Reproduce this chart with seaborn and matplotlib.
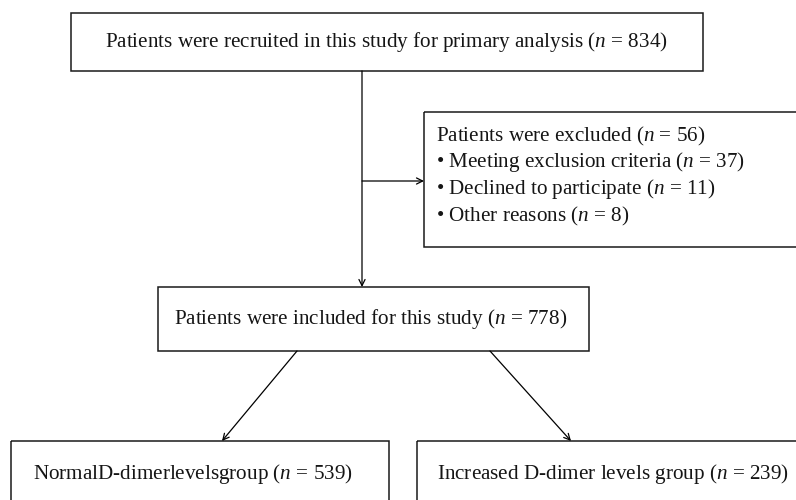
import matplotlib
matplotlib.use("Agg")
import matplotlib.pyplot as plt
import seaborn as sns
from matplotlib.patches import Rectangle

# flowchart content
recruited_label = "Patients were recruited in this study for primary analysis"
recruited_n = 834
excluded_label = "Patients were excluded"
excluded_n = 56
exclusion_reasons = ["Meeting exclusion criteria", "Declined to participate", "Other reasons"]
exclusion_counts = [37, 11, 8]
included_label = "Patients were included for this study"
included_n = 778
group_labels = ["NormalD-dimerlevelsgroup", "Increased D-dimer levels group"]
group_counts = [539, 239]

sns.set_theme(style="white")
plt.rcParams["font.family"] = ["Liberation Serif", "DejaVu Serif"]
plt.rcParams["mathtext.fontset"] = "custom"
plt.rcParams["mathtext.it"] = "Liberation Serif:italic"
plt.rcParams["mathtext.rm"] = "Liberation Serif"


def nlabel(text, n):
    return f"{text} ($n$ = {n})"


fig = plt.figure(figsize=(7.96, 5), dpi=100)
ax = fig.add_axes([0, 0, 1, 1])
ax.set_xlim(0, 796)
ax.set_ylim(500, 0)
ax.axis("off")

FS = 15.2
TC = "#151515"
LC = "#1a1a1a"


def box(x0, y0, x1, y1):
    ax.add_patch(Rectangle((x0, y0), x1 - x0, y1 - y0, fill=False,
                           edgecolor=LC, lw=1.1, clip_on=True))


def arrow(p0, p1):
    ax.annotate("", xy=p1, xytext=p0,
                arrowprops=dict(arrowstyle="->", lw=0.9, color="black",
                                shrinkA=0, shrinkB=0, mutation_scale=11))


# top box
box(71, 13, 703, 71)
ax.text(386, 42, nlabel(recruited_label, recruited_n), fontsize=FS,
        ha="center", va="center", color=TC)

# main vertical arrow and branch to exclusions
arrow((362, 71), (362, 287))
arrow((362, 181), (424, 181))

# exclusion box
box(424, 112, 830, 247)
ax.text(436, 136, nlabel(excluded_label, excluded_n), fontsize=FS,
        ha="left", va="center", color=TC)
for i, (reason, cnt) in enumerate(zip(exclusion_reasons, exclusion_counts)):
    ax.text(436, 162 + 27 * i, "\u2022 " + nlabel(reason, cnt), fontsize=FS,
            ha="left", va="center", color=TC)

# included box
box(158, 287, 589, 351)
ax.text(371, 319, nlabel(included_label, included_n), fontsize=FS,
        ha="center", va="center", color=TC)

# split arrows
arrow((297, 351), (222, 441))
arrow((490, 351), (571, 441))

# group boxes
box(11, 441, 389, 530)
box(417, 441, 830, 530)
ax.text(193, 474, nlabel(group_labels[0], group_counts[0]), fontsize=FS,
        ha="center", va="center", color=TC)
ax.text(437, 474, nlabel(group_labels[1], group_counts[1]), fontsize=FS,
        ha="left", va="center", color=TC)

fig.savefig("out.png", dpi=100, facecolor="white")
